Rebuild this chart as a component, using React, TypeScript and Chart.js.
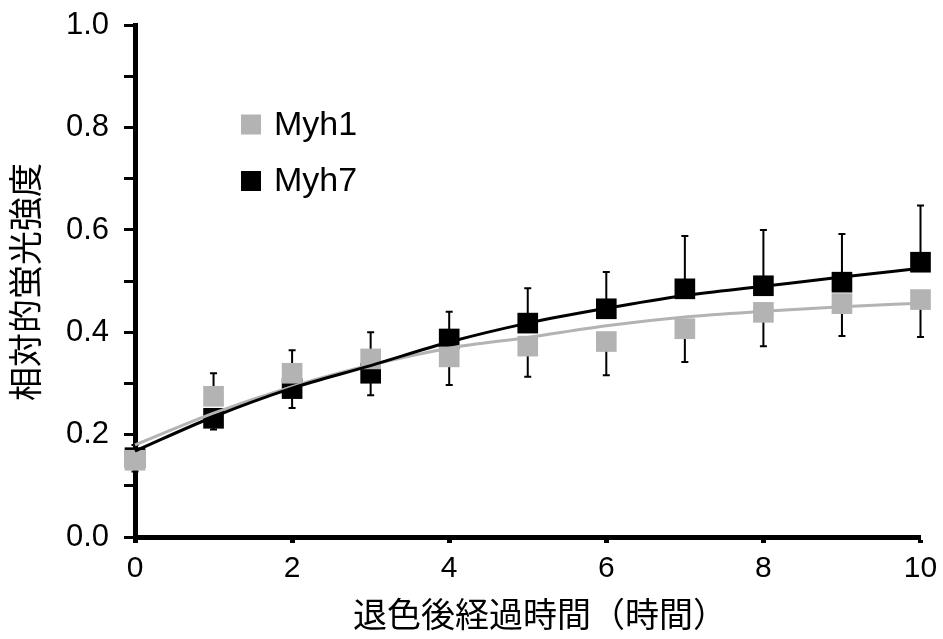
import React, { useEffect, useRef } from 'react';
import { Chart, registerables } from 'chart.js';

Chart.register(...registerables);

// ---- data ----
const hours = [0, 1, 2, 3, 4, 5, 6, 7, 8, 9, 10];

const myh1Mean = [0.150, 0.275, 0.320, 0.348, 0.352, 0.373, 0.382, 0.407, 0.439, 0.456, 0.464];
const myh1ErrUp = [0, 0.045, 0.045, 0.052, 0, 0, 0, 0, 0, 0, 0];
const myh1ErrDown = [0.022, 0, 0, 0, 0.055, 0.060, 0.066, 0.065, 0.066, 0.063, 0.073];
const myh1Fit = [0.180, 0.242, 0.294, 0.336, 0.369, 0.390, 0.413, 0.430, 0.441, 0.450, 0.457];

const myh7Mean = [0.155, 0.232, 0.290, 0.320, 0.387, 0.418, 0.446, 0.485, 0.491, 0.498, 0.537];
const myh7ErrUp = [0.025, 0, 0, 0, 0.053, 0.068, 0.072, 0.103, 0.109, 0.094, 0.111];
const myh7ErrDown = [0, 0.022, 0.038, 0.043, 0, 0, 0, 0, 0, 0, 0];
const myh7Fit = [0.168, 0.235, 0.291, 0.335, 0.381, 0.418, 0.447, 0.472, 0.490, 0.508, 0.525];

const seriesNames = ['Myh1', 'Myh7'];
const yTitle = '相対的蛍光強度';
const xTitle = '退色後経過時間（時間）';

const GRAY = '#b3b3b3';
const BLACK = '#000000';
const NUM_FONT = '"Liberation Sans", Arial, sans-serif';
const CJK_FONT = '"Noto Sans CJK JP", "Noto Sans CJK SC", sans-serif';

const errorBarPlugin = {
  id: 'errorBars',
  beforeDatasetsDraw(chart: any) {
    const { ctx, scales } = chart;
    const xs = scales.x;
    const ys = scales.y;
    ctx.save();
    ctx.strokeStyle = BLACK;
    ctx.lineWidth = 2;
    const cap = 3.5;
    const drawSeries = (mean: number[], up: number[], down: number[]) => {
      for (let i = 0; i < hours.length; i++) {
        const px = xs.getPixelForValue(hours[i]);
        const py = ys.getPixelForValue(mean[i]);
        const segs: number[] = [];
        if (up[i] > 0) segs.push(ys.getPixelForValue(mean[i] + up[i]));
        if (down[i] > 0) segs.push(ys.getPixelForValue(mean[i] - down[i]));
        for (const end of segs) {
          ctx.beginPath();
          ctx.moveTo(px, py);
          ctx.lineTo(px, end);
          ctx.moveTo(px - cap, end);
          ctx.lineTo(px + cap, end);
          ctx.stroke();
        }
      }
    };
    drawSeries(myh7Mean, myh7ErrUp, myh7ErrDown);
    drawSeries(myh1Mean, myh1ErrUp, myh1ErrDown);
    ctx.restore();
  },
};

const decorPlugin = {
  id: 'decor',
  afterDraw(chart: any) {
    const { ctx } = chart;
    ctx.save();
    // legend
    const lx = 241;
    const items = [
      { name: seriesNames[0], color: GRAY, y: 124.5 },
      { name: seriesNames[1], color: BLACK, y: 181 },
    ];
    ctx.font = `34px ${NUM_FONT}`;
    ctx.textBaseline = 'middle';
    ctx.textAlign = 'left';
    for (const it of items) {
      ctx.fillStyle = it.color;
      ctx.fillRect(lx, it.y - 10, 20, 20);
      ctx.fillStyle = BLACK;
      ctx.fillText(it.name, 274, it.y + 1);
    }
    // axis titles
    ctx.font = `34px ${CJK_FONT}`;
    ctx.fillStyle = BLACK;
    ctx.textAlign = 'center';
    ctx.textBaseline = 'middle';
    ctx.fillText(xTitle, 540, 614);
    ctx.translate(25, 282);
    ctx.rotate(-Math.PI / 2);
    ctx.fillText(yTitle, 0, 0);
    ctx.restore();
  },
};

export default function App() {
  const canvasRef = useRef<HTMLCanvasElement | null>(null);

  useEffect(() => {
    document.body.style.margin = '0';
    const canvas = canvasRef.current;
    if (!canvas) return;
    const toXY = (arr: number[]) => hours.map((h, i) => ({ x: h, y: arr[i] }));
    const chart = new Chart(canvas, {
      type: 'line',
      data: {
        datasets: [
          {
            label: 'Myh7 fit',
            data: toXY(myh7Fit),
            borderColor: BLACK,
            borderWidth: 3,
            pointRadius: 0,
            fill: false,
            clip: false,
            cubicInterpolationMode: 'monotone',
            order: 0,
          },
          {
            label: 'Myh1 fit',
            data: toXY(myh1Fit),
            borderColor: GRAY,
            borderWidth: 3,
            pointRadius: 0,
            fill: false,
            clip: false,
            cubicInterpolationMode: 'monotone',
            order: 1,
          },
          {
            label: seriesNames[0],
            data: toXY(myh1Mean),
            showLine: false,
            clip: false,
            pointStyle: 'rect',
            pointRadius: 14.6,
            pointBorderWidth: 0,
            pointBackgroundColor: GRAY,
            pointBorderColor: GRAY,
            order: 2,
          },
          {
            label: seriesNames[1],
            data: toXY(myh7Mean),
            showLine: false,
            clip: false,
            pointStyle: 'rect',
            pointRadius: 14.6,
            pointBorderWidth: 0,
            pointBackgroundColor: BLACK,
            pointBorderColor: BLACK,
            order: 3,
          },
        ],
      },
      options: {
        responsive: false,
        animation: false,
        layout: { padding: { left: 0, right: 22.5, top: 25.3, bottom: 0 } },
        plugins: {
          legend: { display: false },
          tooltip: { enabled: false },
        },
        scales: {
          x: {
            type: 'linear',
            min: 0,
            max: 10,
            afterFit: (s: any) => {
              s.height = 102;
              s.paddingLeft = 0;
              s.paddingRight = 0;
            },
            border: { display: true, color: BLACK, width: 5 },
            grid: {
              drawOnChartArea: false,
              drawTicks: true,
              tickLength: 6,
              tickWidth: 5,
              tickColor: BLACK,
            },
            ticks: {
              stepSize: 2,
              autoSkip: false,
              maxRotation: 0,
              padding: 8,
              color: BLACK,
              font: { family: NUM_FONT, size: 30 },
            },
          },
          y: {
            type: 'linear',
            min: 0,
            max: 1,
            afterFit: (s: any) => {
              s.width = 135;
              s.paddingTop = 0;
              s.paddingBottom = 0;
            },
            border: { display: true, color: BLACK, width: 5 },
            grid: {
              drawOnChartArea: false,
              drawTicks: true,
              tickLength: 11,
              tickWidth: 3,
              tickColor: BLACK,
            },
            ticks: {
              stepSize: 0.1,
              autoSkip: false,
              padding: 15,
              color: BLACK,
              font: { family: NUM_FONT, size: 31 },
              callback: (v: any) => (Math.round(Number(v) * 10) % 2 === 0 ? Number(v).toFixed(1) : ''),
            },
          },
        },
      },
      plugins: [errorBarPlugin, decorPlugin],
    } as any);
    return () => chart.destroy();
  }, []);

  return (
    <div style={{ width: 943, height: 639, background: '#fff' }}>
      <canvas ref={canvasRef} width={943} height={639} style={{ display: 'block' }} />
    </div>
  );
}
